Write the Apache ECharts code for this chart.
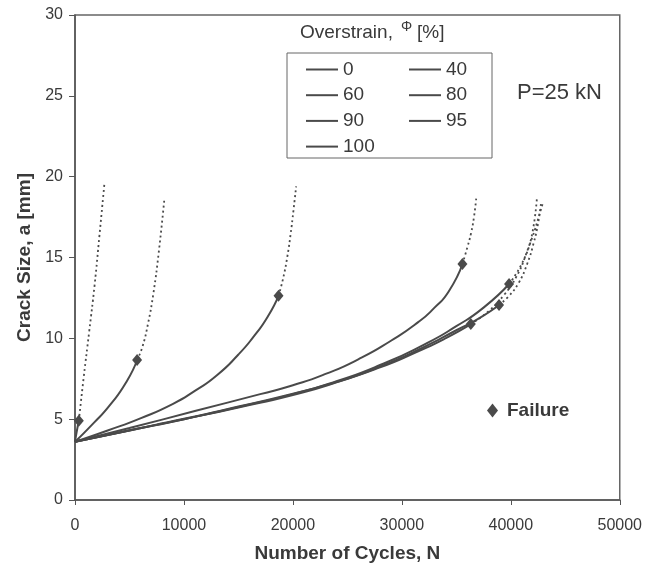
<!DOCTYPE html>
<html>
<head>
<meta charset="utf-8">
<script src="https://cdn.jsdelivr.net/npm/echarts@6/dist/echarts.min.js"></script>
<style>
html,body{margin:0;padding:0;background:#fff;}
#chart{width:645px;height:571px;}
</style>
</head>
<body>
<div id="chart"></div>
<script>
// ---- data ----
const overstrain = ['0', '40', '60', '80', '90', '95', '100'];

// solid part (up to failure) and dotted part (after failure) per curve
const solidN_0   = [0, 5000, 10000, 15000, 20000, 24000, 28000, 32000, 35000, 37500, 39840];
const solidA_0   = [3.6, 4.3, 5.0, 5.75, 6.55, 7.35, 8.35, 9.6, 10.75, 11.9, 13.36];
const dotN_0     = [39840, 41000, 42000, 42600, 42950];
const dotA_0     = [13.36, 14.6, 16.3, 17.6, 18.4];

const solidN_40  = [0, 5000, 10000, 15000, 20000, 24000, 28000, 32000, 35000, 37000, 38920];
const solidA_40  = [3.6, 4.3, 5.0, 5.72, 6.5, 7.28, 8.25, 9.45, 10.5, 11.2, 12.06];
const dotN_40    = [38920, 39800, 40700, 41500, 42100, 42500, 42780];
const dotA_40    = [12.06, 12.6, 13.4, 14.6, 15.9, 17.1, 18.4];

const solidN_60  = [0, 5000, 10000, 15000, 20000, 24000, 28000, 31500, 34000, 36330];
const solidA_60  = [3.6, 4.32, 5.02, 5.78, 6.58, 7.3, 8.2, 9.2, 10.0, 10.88];
const dotN_60    = [36330, 38000, 39400, 40500, 41400, 42000, 42400];
const dotA_60    = [10.88, 11.7, 12.7, 13.8, 15.2, 16.6, 18.7];

const solidN_80  = [0, 5000, 11000, 17000, 20000, 23000, 26000, 29000, 31500, 33000, 34300, 35560];
const solidA_80  = [3.6, 4.45, 5.5, 6.55, 7.1, 7.8, 8.7, 9.85, 11.0, 11.9, 12.9, 14.6];
const dotN_80    = [35560, 36000, 36350, 36620, 36840];
const dotA_80    = [14.6, 15.6, 16.5, 17.5, 18.75];

const solidN_90  = [0, 3000, 6000, 9000, 11000, 13000, 15000, 16500, 17700, 18680];
const solidA_90  = [3.6, 4.3, 5.05, 5.95, 6.75, 7.7, 9.0, 10.2, 11.35, 12.63];
const dotN_90    = [18680, 19100, 19500, 19800, 20050, 20300];
const dotA_90    = [12.63, 13.7, 15.1, 16.5, 17.9, 19.4];

const solidN_95  = [0, 1680, 3200, 4730, 5700];
const solidA_95  = [3.6, 4.74, 5.87, 7.32, 8.66];
const dotN_95    = [5700, 6200, 6700, 7200, 7700, 8200];
const dotA_95    = [8.66, 9.5, 10.9, 12.8, 15.4, 18.6];

const solidN_100 = [0, 150, 350];
const solidA_100 = [3.6, 4.2, 4.9];
const dotN_100   = [350, 800, 1300, 1800, 2250, 2690];
const dotA_100   = [4.9, 7.6, 10.4, 13.3, 16.4, 19.5];

const failureN = [39840, 38920, 36330, 35560, 18680, 5700, 350];
const failureA = [13.36, 12.06, 10.88, 14.6, 12.63, 8.66, 4.9];

const xTicks = [0, 10000, 20000, 30000, 40000, 50000];
const yTicks = [0, 5, 10, 15, 20, 25, 30];

// ---- build ----
const solidN = [solidN_0, solidN_40, solidN_60, solidN_80, solidN_90, solidN_95, solidN_100];
const solidA = [solidA_0, solidA_40, solidA_60, solidA_80, solidA_90, solidA_95, solidA_100];
const dotN = [dotN_0, dotN_40, dotN_60, dotN_80, dotN_90, dotN_95, dotN_100];
const dotA = [dotA_0, dotA_40, dotA_60, dotA_80, dotA_90, dotA_95, dotA_100];
const zip = (xs, ys) => xs.map((x, i) => [x, ys[i]]);

const LINE = '#4a4a4a';
const TXT = '#3a3a3a';
const FONT = '"Liberation Sans", Arial, sans-serif';

const series = [];
overstrain.forEach((name, k) => {
  series.push({
    name: name, type: 'line', data: zip(solidN[k], solidA[k]),
    symbol: 'none', showSymbol: false, smooth: 0.6,
    lineStyle: { color: LINE, width: 2 }, itemStyle: { color: LINE },
    z: 3
  });
  series.push({
    name: name + ' (after failure)', type: 'line', data: zip(dotN[k], dotA[k]),
    symbol: 'none', showSymbol: false, smooth: 0.5,
    lineStyle: { color: LINE, width: 1.8, type: [2, 3] }, itemStyle: { color: LINE },
    z: 2
  });
});
series.push({
  name: 'Failure', type: 'scatter', data: zip(failureN, failureA),
  symbol: 'diamond', symbolSize: [10, 12],
  itemStyle: { color: '#4a4a4a', opacity: 1 }, z: 5
});

const legendText = { fontSize: 19, color: TXT, fontFamily: FONT, lineHeight: 18 };

const option = {
  backgroundColor: '#ffffff',
  animation: false,
  textStyle: { fontFamily: FONT },
  grid: { left: 75, top: 15, right: 24, bottom: 71, show: true, borderColor: '#666', borderWidth: 1.5 },
  xAxis: {
    type: 'value', min: xTicks[0], max: xTicks[xTicks.length - 1], interval: 10000,
    name: 'Number of Cycles, N', nameLocation: 'middle', nameGap: 44,
    nameTextStyle: { fontSize: 19, fontWeight: 'bold', color: TXT, fontFamily: FONT },
    axisLine: { lineStyle: { color: '#555', width: 1.5 } },
    axisTick: { show: true, inside: false, length: 5, lineStyle: { color: '#555' } },
    axisLabel: { fontSize: 16, color: TXT, margin: 18, fontFamily: FONT, formatter: v => String(v) },
    splitLine: { show: false }
  },
  yAxis: {
    type: 'value', min: yTicks[0], max: yTicks[yTicks.length - 1], interval: 5,
    name: 'Crack Size, a [mm]', nameLocation: 'middle', nameGap: 41,
    nameTextStyle: { fontSize: 19, fontWeight: 'bold', color: TXT, fontFamily: FONT },
    axisLine: { lineStyle: { color: '#555', width: 1.5 } },
    axisTick: { show: true, inside: false, length: 6, lineStyle: { color: '#555' } },
    axisLabel: { fontSize: 16, color: TXT, margin: 12, fontFamily: FONT, formatter: v => String(v) },
    splitLine: { show: false }
  },
  legend: [
    { data: ['0', '60', '90', '100'], orient: 'vertical', left: 301, top: 55, icon: 'rect',
      itemWidth: 32, itemHeight: 2, itemGap: 6.7, textStyle: legendText },
    { data: ['40', '80', '95'], orient: 'vertical', left: 404, top: 55, icon: 'rect',
      itemWidth: 32, itemHeight: 2, itemGap: 6.7, textStyle: legendText },
    { data: ['Failure'], left: 482, top: 396, itemWidth: 11, itemHeight: 14,
      textStyle: { fontSize: 19, fontWeight: 'bold', color: TXT, fontFamily: FONT, padding: [0, 0, 0, 4] } }
  ],
  graphic: [
    { type: 'rect', shape: { x: 287, y: 53, width: 205, height: 105 },
      style: { fill: 'none', stroke: '#666', lineWidth: 1 }, z: 10 },
    { type: 'text', x: 300, y: 33,
      style: { text: 'Overstrain,', fontSize: 19, fill: TXT, fontFamily: FONT, verticalAlign: 'middle' } },
    { type: 'text', x: 401, y: 27,
      style: { text: 'Φ', fontSize: 14, fill: TXT, fontFamily: FONT, verticalAlign: 'middle' } },
    { type: 'text', x: 417, y: 33,
      style: { text: '[%]', fontSize: 19, fill: TXT, fontFamily: FONT, verticalAlign: 'middle' } },
    { type: 'text', x: 517, y: 93,
      style: { text: 'P=25 kN', fontSize: 22, fill: TXT, fontFamily: FONT, verticalAlign: 'middle' } }
  ],
  series: series
};

const chart = echarts.init(document.getElementById('chart'), null, { renderer: 'canvas' });
chart.setOption(option);
</script>
</body>
</html>
